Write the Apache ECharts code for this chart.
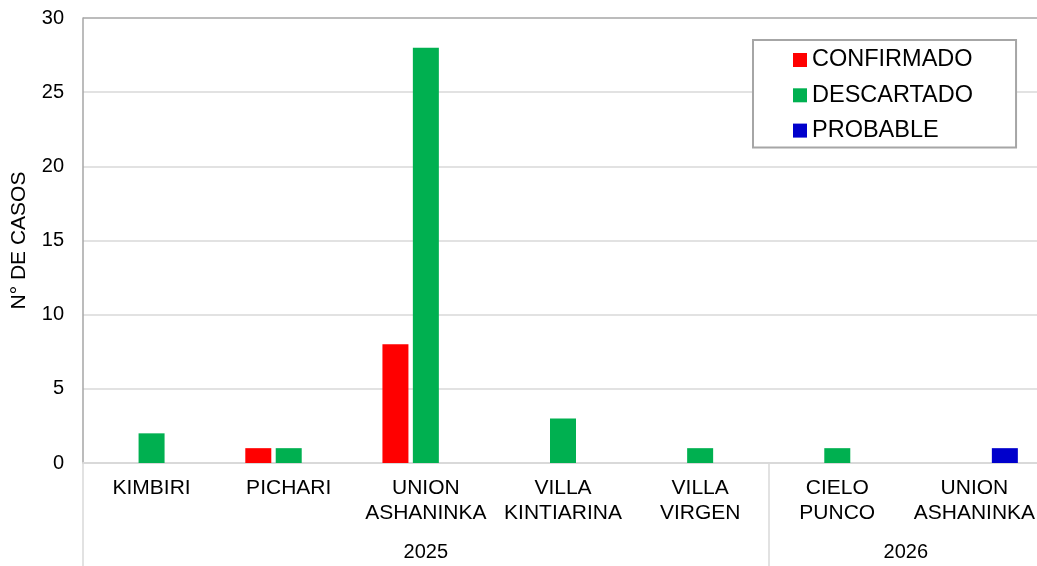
<!DOCTYPE html>
<html>
<head>
<meta charset="utf-8">
<script src="https://cdn.jsdelivr.net/npm/echarts@6/dist/echarts.min.js"></script>
<style>
html,body{margin:0;padding:0;background:#fff;}
#chart{width:1037px;height:566px;}
</style>
</head>
<body>
<div id="chart"></div>
<script>
// ---- data ----
var categories = ['KIMBIRI', 'PICHARI', 'UNION\nASHANINKA', 'VILLA\nKINTIARINA', 'VILLA\nVIRGEN', 'CIELO\nPUNCO', 'UNION\nASHANINKA'];
var years = ['2025', '2026'];
var yearGroupSizes = [5, 2];
var confirmado = [0, 1, 8, 0, 0, 0, 0];
var descartado = [2, 1, 28, 3, 1, 1, 0];
var probable = [0, 0, 0, 0, 0, 0, 1];
var yTicks = [0, 5, 10, 15, 20, 25, 30];

// group boundaries and centers (in category units) for the outer axis level
var boundaries = [0];
var centers = [];
var labelAt = {};
(function () {
  var acc = 0;
  for (var i = 0; i < yearGroupSizes.length; i++) {
    var c = acc + yearGroupSizes[i] / 2;
    centers.push(c);
    labelAt[c] = years[i];
    acc += yearGroupSizes[i];
    boundaries.push(acc);
  }
})();

var FONT = 'Liberation Sans, Arial, sans-serif';
var chart = echarts.init(document.getElementById('chart'), null, {renderer: 'canvas'});

var splitColors = yTicks.map(function (v, i) { return i === yTicks.length - 1 ? '#a6a6a6' : '#d9d9d9'; });

chart.setOption({
  animation: false,
  backgroundColor: '#ffffff',
  textStyle: {fontFamily: FONT},
  grid: {left: 83, top: 18, width: 960, height: 445, containLabel: false, outerBoundsMode: 'none'},
  legend: {
    orient: 'vertical',
    left: 753,
    top: 40,
    padding: [8, 43, 5, 40],
    itemWidth: 14,
    itemHeight: 14,
    itemGap: 11.3,
    icon: 'rect',
    backgroundColor: '#ffffff',
    borderColor: '#a6a6a6',
    borderWidth: 2,
    textStyle: {fontSize: 23.5, lineHeight: 24, color: '#000', fontFamily: FONT},
    data: ['CONFIRMADO', 'DESCARTADO', 'PROBABLE']
  },
  xAxis: [
    {
      type: 'category',
      data: categories,
      position: 'bottom',
      axisLine: {show: true, lineStyle: {color: '#d9d9d9', width: 2}},
      axisTick: {show: false},
      axisLabel: {interval: 0, fontSize: 21, lineHeight: 25, margin: 13, color: '#000', fontFamily: FONT},
      splitLine: {show: false}
    },
    {
      type: 'value',
      min: 0,
      max: categories.length,
      position: 'bottom',
      axisLine: {show: false},
      splitLine: {show: false},
      axisTick: {show: true, customValues: boundaries, length: 103, lineStyle: {color: '#d9d9d9', width: 1.5}},
      axisLabel: {
        show: true,
        customValues: centers,
        margin: 77,
        fontSize: 20,
        lineHeight: 25,
        color: '#000',
        fontFamily: FONT,
        formatter: function (v) { return labelAt[v] || ''; }
      }
    }
  ],
  yAxis: {
    type: 'value',
    min: 0,
    max: 30,
    interval: 5,
    name: 'N° DE CASOS',
    nameLocation: 'middle',
    nameGap: 53,
    nameTextStyle: {fontSize: 21, color: '#000', fontFamily: FONT},
    axisLine: {show: true, lineStyle: {color: '#a6a6a6', width: 1.5}},
    axisTick: {show: false},
    axisLabel: {fontSize: 20, margin: 19, color: '#000', fontFamily: FONT},
    splitLine: {show: true, lineStyle: {color: splitColors, width: 1.5}}
  },
  series: [
    {name: 'CONFIRMADO', type: 'bar', xAxisIndex: 0, data: confirmado, barWidth: 26, barGap: '17%', itemStyle: {color: '#ff0000'}},
    {name: 'DESCARTADO', type: 'bar', xAxisIndex: 0, data: descartado, barWidth: 26, barGap: '17%', itemStyle: {color: '#00b050'}},
    {name: 'PROBABLE', type: 'bar', xAxisIndex: 0, data: probable, barWidth: 26, barGap: '17%', itemStyle: {color: '#0000cc'}}
  ]
});
</script>
</body>
</html>
